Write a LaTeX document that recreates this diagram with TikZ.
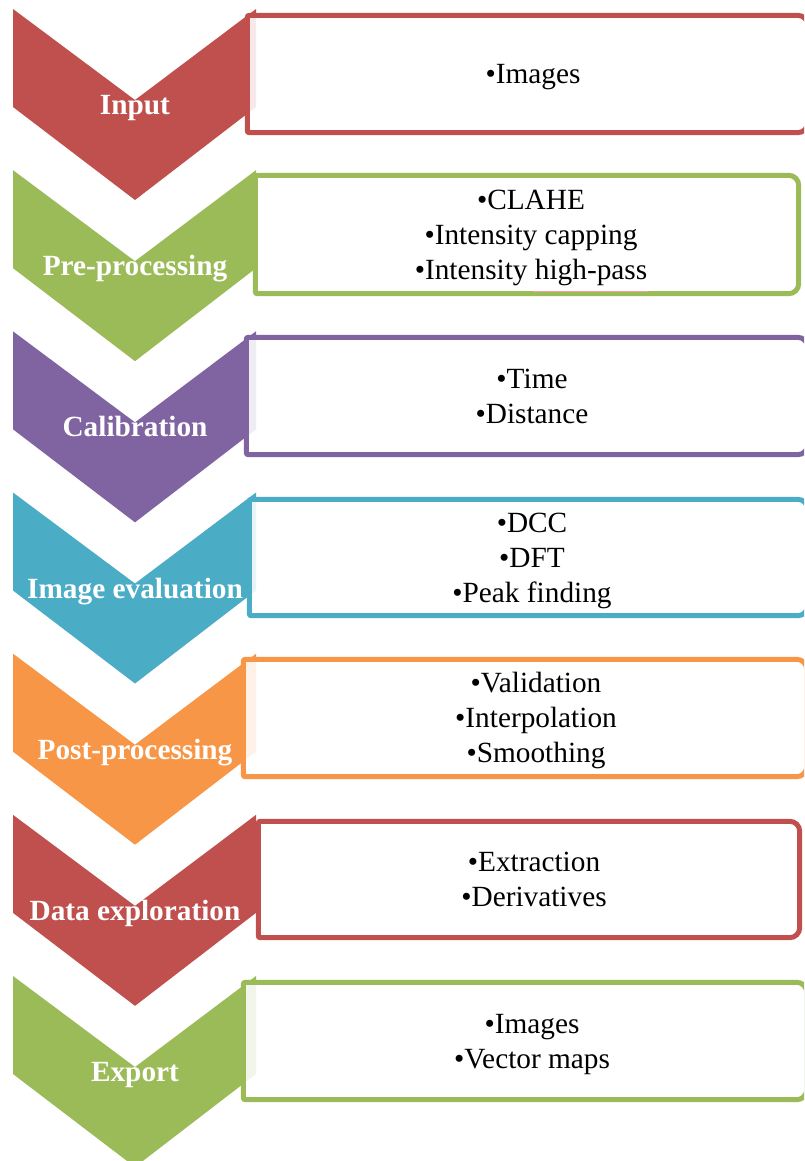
\documentclass[tikz,border=0pt]{standalone}
\usepackage{fontspec}
\setmainfont{Liberation Serif}
\definecolor{cred}{HTML}{C0504D}
\definecolor{cgreen}{HTML}{9BBB59}
\definecolor{cpurple}{HTML}{8064A2}
\definecolor{cteal}{HTML}{4BACC6}
\definecolor{corange}{HTML}{F79646}
\definecolor{spellred}{HTML}{F2A0A0}
\newcommand{\linestrut}{\rule[-9pt]{0pt}{35pt}}
\begin{document}
\begin{tikzpicture}[x=1pt,y=-1pt,
  steplabel/.style={text=white, font=\fontsize{29.3}{35}\selectfont\bfseries, anchor=base, inner sep=0pt},
  itemtext/.style={font=\fontsize{29.3}{35}\selectfont, align=center, inner sep=0pt, text=black},
  boxframe/.style={draw=none, inner sep=0pt},
  boxline/.style={draw=#1, line width=5pt, fill=white, fill opacity=0.88}
]
\useasboundingbox (0,0) rectangle (804,1161);
\fill[white] (0,0) rectangle (804,1161);
\clip (0,0) rectangle (804,1161);

% downward chevrons with the step names
\foreach \i/\c/\lab in {0/cred/Input, 1/cgreen/Pre-processing, 2/cpurple/Calibration,
  3/cteal/Image evaluation, 4/corange/Post-processing, 5/cred/Data exploration, 6/cgreen/Export}{
  \pgfmathsetmacro\t{9+161.17*\i}
  \fill[\c] (13,\t) -- (135,\t+91) -- (256,\t) -- (256,\t+98) -- (135,\t+191) -- (13,\t+98) -- cycle;
  \node[steplabel] (label\i) at (135,\t+105.5) {\lab};
}

% detail boxes: outer left, top, right, bottom edges and text centre
\foreach \i/\c/\L/\T/\R/\B/\tx/\txt in {
  0/cred/245/13/810/135/533/{\linestrut•Images},
  1/cgreen/253/173/801/296/531/{\linestrut•CLAHE\\\linestrut•Intensity capping\\\linestrut•Intensity high-pass},
  2/cpurple/244/335/810/457/532/{\linestrut•Time\\\linestrut•Distance},
  3/cteal/247/497/810/618/532/{\linestrut•DCC\\\linestrut•DFT\\\linestrut•Peak finding},
  4/corange/241/657/809/779/536/{\linestrut•Validation\\\linestrut•Interpolation\\\linestrut•Smoothing},
  5/cred/256/819/802/940/534/{\linestrut•Extraction\\\linestrut•Derivatives},
  6/cgreen/241/980/809/1102/532/{\linestrut•Images\\\linestrut•Vector maps}}{
  \pgfmathsetmacro\cx{(\L+\R)/2}
  \pgfmathsetmacro\cy{(\T+\B)/2}
  \pgfmathsetmacro\w{\R-\L-5}
  \pgfmathsetmacro\h{\B-\T-5}
  \node[boxframe, minimum width=\w pt, minimum height=\h pt] (box\i) at (\cx,\cy) {};
  \draw[boxline=\c] (box\i.west) [rounded corners=2pt] -- (box\i.north west) -- (box\i.north)
    [rounded corners=10pt] -- (box\i.north east) -- (box\i.south east) -- (box\i.south)
    [rounded corners=2pt] -- (box\i.south west) -- cycle;
  \node[itemtext] (items\i) at (\tx,\cy+1) {\txt};
}

% spell-check mark under "high-pass"
\draw[spellred, line width=0.8pt] (533,291) -- (648,291);
\end{tikzpicture}
\end{document}
